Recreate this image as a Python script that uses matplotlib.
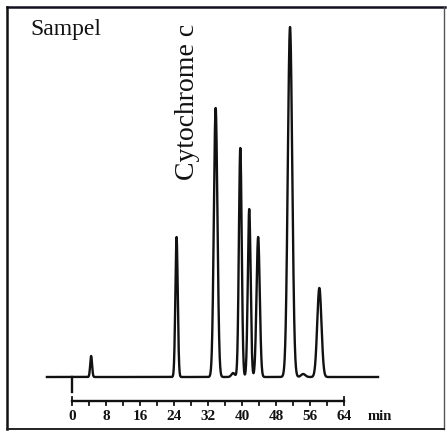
import numpy as np
import matplotlib
matplotlib.use('Agg')
from matplotlib import pyplot as plt

# peak table (time in min, height in px above baseline)
peak_times = [4.5, 24.6, 33.8, 37.9, 39.6, 41.7, 43.8, 51.3, 54.4, 58.2]
peak_heights = [21, 140, 269, 4, 229, 168, 140, 350, 3, 89]
peak_widths = [0.22, 0.28, 0.42, 0.4, 0.33, 0.33, 0.38, 0.52, 0.5, 0.5]

tick_values = [0, 8, 16, 24, 32, 40, 48, 56, 64]
minor_ticks = list(range(0, 65, 4))

PX_PER_MIN = 4.25
X0 = 72          # pixel column of t = 0
BASE = 377       # pixel row of the baseline
W, H = 447, 432
INK = '#111111'

fig = plt.figure(figsize=(W / 100, H / 100), dpi=100)
ax = fig.add_axes([0, 0, 1, 1])
ax.set_xlim(-X0 / PX_PER_MIN, (W - X0) / PX_PER_MIN)
ax.set_ylim(BASE - H, BASE)
ax.axis('off')

# trace built from the peak table
t = np.linspace(-5.9, 72.0, 4000)
signal = np.zeros_like(t)
for tc, h, w in zip(peak_times, peak_heights, peak_widths):
    signal += h * np.exp(-0.5 * ((t - tc) / w) ** 2)
ax.plot(t, signal, color=INK, lw=1.7, solid_joinstyle='round')

# injection marker
ax.plot([0, 0], [0, -15], color=INK, lw=1.7)

# time scale
ax.plot([0, 64], [-24, -24], color=INK, lw=1.7)
for m in minor_ticks:
    lo, hi = -28, -24
    if m in (0, 64):
        hi = -20
    ax.plot([m, m], [lo, hi], color=INK, lw=1.3)
for v in tick_values:
    ax.text(v, -39, str(v), ha='center', va='center', fontsize=11,
            fontweight='bold', family='Liberation Serif', color=INK)
ax.text(72.5, -39, 'min', ha='center', va='center', fontsize=10.5,
        fontweight='bold', family='Liberation Serif', color=INK)

# labels
ax.text(-9.9, BASE - 35, 'Sampel', ha='left', va='baseline', fontsize=17,
        family='Liberation Serif', color=INK)
ax.text(27.2, BASE - 102, 'Cytochrome c', ha='center', va='center',
        rotation=90, fontsize=20, family='Liberation Serif', color=INK)

# scanned frame
def fx(px):
    return px / W

def fy(py):
    return 1 - py / H

fig.add_artist(plt.Line2D([fx(7), fx(445)], [fy(7), fy(7)], color='#111122', lw=1.8))
fig.add_artist(plt.Line2D([fx(7), fx(7)], [fy(7), fy(429)], color=INK, lw=1.8))
fig.add_artist(plt.Line2D([fx(444), fx(444)], [fy(7), fy(429)], color='#555555', lw=1.0))
fig.add_artist(plt.Line2D([fx(7), fx(444)], [fy(429), fy(429)], color='#222222', lw=1.4))

fig.savefig('out.png', dpi=100)
